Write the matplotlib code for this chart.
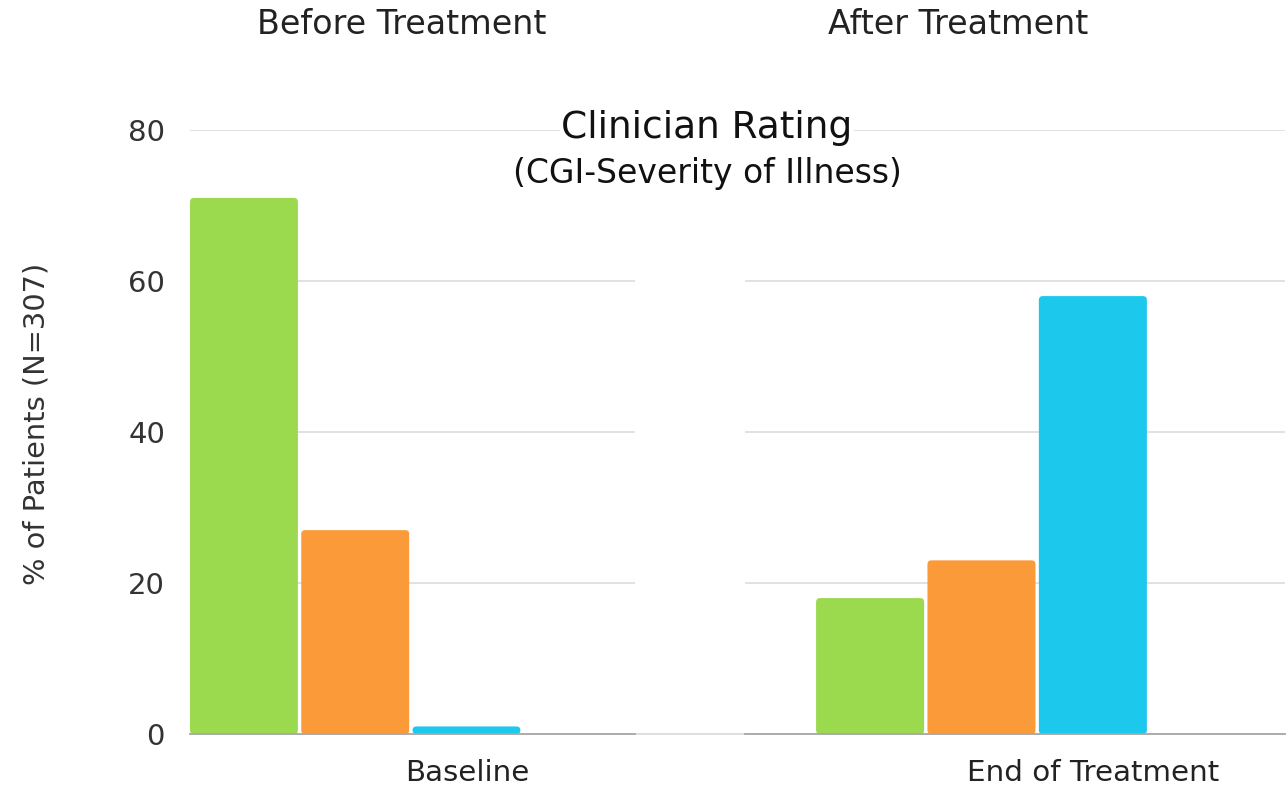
import numpy as np
import matplotlib.pyplot as plt
from matplotlib.lines import Line2D
from matplotlib.patches import FancyBboxPatch

plt.rcParams['font.family'] = ['DejaVu Sans']

groups = ["Baseline", "End of Treatment"]
panel_titles = ["Before Treatment", "After Treatment"]
severity = ["Markedly ill or worse", "Moderately ill", "Mildly ill or better"]
before_vals = [71, 27, 1]
after_vals = [18, 23, 58]
colors = ["#9bd94f", "#fb9a38", "#1cc8ec"]
yticks = [0, 20, 40, 60, 80]

W, H = 1286, 786
fig = plt.figure(figsize=(W / 100, H / 100), dpi=100)

y0_px, y80_px = 734, 130
bottom = (H - y0_px) / H
height = (y0_px - y80_px) / H
unit = 111.25  # px per bar slot
px_per_y = (y0_px - y80_px) / 80

ax1 = fig.add_axes([190 / W, bottom, 445 / W, height])
ax2 = fig.add_axes([745 / W, bottom, 540 / W, height])

# light full-width baseline behind the panels
fig.add_artist(Line2D([190 / W, 1285 / W], [bottom, bottom], color="#d8d8d8", lw=1.2, zorder=0))

for ax, vals, xlim in [(ax1, before_vals, (0, 4)), (ax2, after_vals, (-71 / unit, 4.21))]:
    x = np.arange(len(vals))
    bars = ax.bar(x, vals, width=0.97, align="edge", color=colors, edgecolor="none", zorder=3)
    # swap for slightly rounded boxes
    for b in bars:
        fb = FancyBboxPatch((b.get_x(), b.get_y()), b.get_width(), b.get_height(),
                            boxstyle="round,pad=0,rounding_size=0.035",
                            mutation_aspect=unit / px_per_y,
                            facecolor=b.get_facecolor(), edgecolor="none", zorder=3)
        b.remove()
        ax.add_patch(fb)
    ax.set_xlim(*xlim)
    ax.set_ylim(0, 80)
    ax.set_yticks(yticks)
    ax.grid(axis="y", color="#dcdcdc", lw=1.2, zorder=0)
    for s in ["top", "right", "left"]:
        ax.spines[s].set_visible(False)
    ax.spines["bottom"].set_color("#a8a8a8")
    ax.spines["bottom"].set_linewidth(1.3)
    ax.spines["bottom"].set_zorder(4)
    ax.set_xticks([2.49])
    ax.tick_params(axis="x", length=0, labelsize=21.2, labelcolor="#222222", pad=18)
    ax.tick_params(axis="y", length=0)

ax1.set_xticklabels([groups[0]])
ax2.set_xticklabels([groups[1]])
ax1.tick_params(axis="y", labelsize=21, labelcolor="#333333", pad=18)
ax2.tick_params(axis="y", labelleft=False)

fig.text(37 / W, 1 - 424 / H, "% of Patients (N=307)", rotation=90, ha="center", va="center",
         fontsize=20.8, color="#333333")

fig.text(402 / W, 1 - 24 / H, panel_titles[0], ha="center", va="center", fontsize=24, color="#222222")
fig.text(958 / W, 1 - 24 / H, panel_titles[1], ha="center", va="center", fontsize=24, color="#222222")

fig.text(707 / W, 1 - 128 / H, "Clinician Rating", ha="center", va="center", fontsize=27,
         color="#111111", bbox=dict(facecolor="white", edgecolor="none", pad=1))
fig.text(707 / W, 1 - 174 / H, "(CGI-Severity of Illness)", ha="center", va="center", fontsize=23.8,
         color="#111111")

fig.savefig("out.png", dpi=100, facecolor="white")
